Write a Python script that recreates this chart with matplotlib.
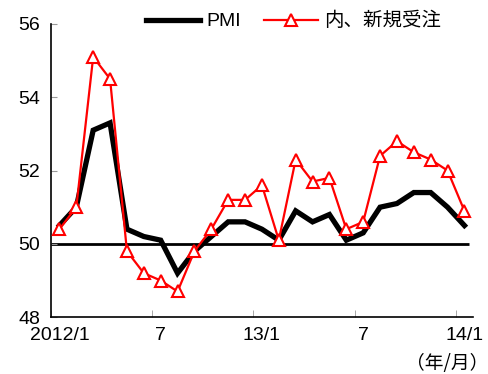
import numpy as np
import matplotlib.pyplot as plt

plt.rcParams['font.family'] = ['Liberation Sans', 'Noto Sans CJK JP', 'DejaVu Sans']

# monthly index, 2012/1 .. 2014/1
months = np.arange(25)
pmi = [50.5, 51.0, 53.1, 53.3, 50.4, 50.2, 50.1, 49.2, 49.8, 50.2, 50.6, 50.6,
       50.4, 50.1, 50.9, 50.6, 50.8, 50.1, 50.3, 51.0, 51.1, 51.4, 51.4, 51.0,
       50.5]
new_orders = [50.4, 51.0, 55.1, 54.5, 49.8, 49.2, 49.0, 48.7, 49.8, 50.4, 51.2, 51.2,
              51.6, 50.1, 52.3, 51.7, 51.8, 50.4, 50.6, 52.4, 52.8, 52.5, 52.3, 52.0,
              50.9]
tick_pos = [0, 6, 12, 18, 24]
tick_labels = ['2012/1', '7', '13/1', '7', '14/1']

fig = plt.figure(figsize=(4.88, 3.74), dpi=100)
ax = fig.add_axes([0.1045, 0.152, 0.8645, 0.784])

# boom/bust threshold
ax.hlines(50, -0.5, 24.3, color='black', lw=2, zorder=1)

ax.plot(months, pmi, color='black', lw=3.8, solid_joinstyle='miter', label='PMI', zorder=2)
ax.plot(months, new_orders, color='red', lw=1.6, marker='^', ms=8,
        markerfacecolor='white', markeredgecolor='red', markeredgewidth=1.5,
        label='内、新規受注', zorder=3)

ax.set_xlim(-0.5, 24.5)
ax.set_ylim(48, 56)
ax.set_yticks([48, 50, 52, 54, 56])
ax.set_xticks(tick_pos)
ax.set_xticklabels(tick_labels)
ax.set_xticks([-0.5, 5.5, 11.5, 17.5, 23.5], minor=True)
ax.tick_params(axis='x', which='major', length=0, labelsize=14, pad=7)
ax.tick_params(axis='x', which='minor', direction='in', length=5, color='#999999')
ax.tick_params(axis='y', direction='in', length=4, color='#999999', labelsize=14, pad=8)

for side in ['top', 'right']:
    ax.spines[side].set_visible(False)
for side in ['left', 'bottom']:
    ax.spines[side].set_linewidth(1.2)

ax.legend(loc='upper center', bbox_to_anchor=(0.575, 1.1), ncol=2, frameon=False,
          handlelength=2.8, handletextpad=0.3, columnspacing=1.2,
          prop={'family': ['Liberation Sans', 'Noto Sans CJK JP'], 'size': 14})

fig.text(1.0, 0.0, '（年/月）', ha='right', va='bottom', fontsize=13.5,
         family=['Noto Sans CJK JP', 'DejaVu Sans'])

fig.savefig('out.png')
